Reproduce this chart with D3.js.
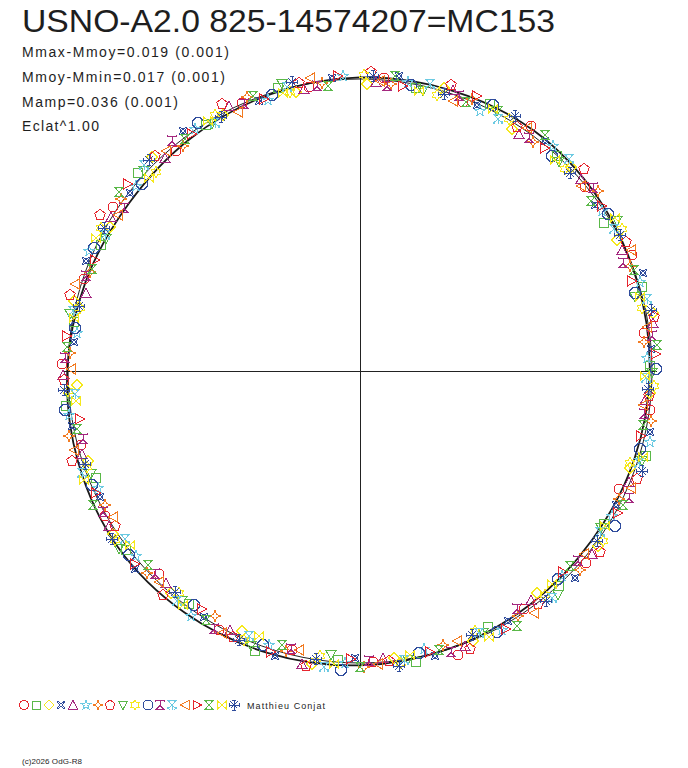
<!DOCTYPE html>
<html lang="en">
<head>
    <meta charset="UTF-8">
    <title>USNO-A2.0 825-14574207=MC153</title>
    <script src="https://d3js.org/d3.v7.min.js" charset="utf-8"></script>
    <style>
        body { margin: 0; background: white; }
        svg { display: block; background: white; }
        text { font-family: 'Liberation Sans', Arial, sans-serif; fill: #1e1e1e; }
        .mark { shape-rendering: crispEdges; }
    </style>
</head>
<body>
    <div id="chart"></div>
    <script>
        // titles and stats shown top-left
        var titleText = 'USNO-A2.0 825-14574207=MC153';
        var statLines = ['Mmax-Mmoy=0.019 (0.001)', 'Mmoy-Mmin=0.017 (0.001)', 'Mamp=0.036 (0.001)', 'Eclat^1.00'];
        var authorText = 'Matthieu Conjat';
        var copyText = '(c)2026 OdG-R8';

        // fitted light curve: phase (0..1, clockwise from top) and magnitude offset
        var fitPhase = [0.00, 0.05, 0.10, 0.15, 0.20, 0.25, 0.30, 0.35, 0.40, 0.45, 0.50, 0.55, 0.60, 0.65, 0.70, 0.75, 0.80, 0.85, 0.90, 0.95];
        var fitMag   = [-0.004, -0.008, -0.012, -0.006, 0.002, 0.006, 0.010, 0.013, 0.008, 0.001, -0.006, -0.012, -0.017, -0.019, -0.011, -0.002, 0.009, 0.017, 0.011, 0.003];

        // one array per night: [phase, magnitude offset]
        var night01 = [[0.013,-0.006],[0.058,0.011],[0.097,-0.018],[0.141,0.004],[0.186,-0.009],[0.229,0.014],[0.271,-0.002],[0.318,0.019],[0.362,-0.011],[0.404,0.007],[0.447,-0.021],[0.493,0.003],[0.538,0.012],[0.579,-0.008],[0.624,0.016],[0.668,-0.004],[0.709,0.009],[0.754,-0.015],[0.801,0.002],[0.843,-0.012],[0.889,0.013],[0.934,-0.003],[0.972,0.008]];
        var night02 = [[0.031,0.009],[0.072,-0.013],[0.118,0.002],[0.163,0.017],[0.204,-0.007],[0.247,0.006],[0.296,-0.016],[0.339,0.010],[0.381,-0.003],[0.426,0.015],[0.470,-0.012],[0.512,0.005],[0.557,-0.019],[0.601,0.008],[0.646,-0.006],[0.689,0.018],[0.731,-0.010],[0.777,0.004],[0.822,0.011],[0.866,-0.014],[0.911,0.006],[0.955,-0.008]];
        var night03 = [[0.004,0.012],[0.046,-0.009],[0.089,0.016],[0.128,-0.004],[0.175,0.008],[0.219,-0.017],[0.262,0.003],[0.305,0.013],[0.351,-0.010],[0.393,0.021],[0.437,-0.002],[0.481,0.009],[0.526,-0.014],[0.568,0.017],[0.612,0.001],[0.657,-0.011],[0.699,0.014],[0.742,0.022],[0.788,-0.006],[0.833,0.010],[0.877,-0.017],[0.922,0.005],[0.964,0.015]];
        var night04 = [[0.021,-0.015],[0.066,0.004],[0.108,-0.008],[0.152,0.012],[0.197,-0.020],[0.238,0.001],[0.283,-0.011],[0.327,0.008],[0.372,-0.017],[0.415,0.003],[0.459,-0.006],[0.503,0.014],[0.546,-0.013],[0.590,0.002],[0.635,-0.019],[0.678,0.007],[0.720,-0.004],[0.766,0.012],[0.811,-0.009],[0.855,0.003],[0.899,-0.016],[0.943,0.009],[0.985,-0.005]];
        var night05 = [[0.009,0.007],[0.051,-0.011],[0.094,0.018],[0.136,-0.002],[0.181,0.010],[0.224,-0.014],[0.266,0.015],[0.312,0.002],[0.356,-0.009],[0.398,0.016],[0.442,-0.005],[0.487,0.011],[0.531,-0.016],[0.574,0.006],[0.618,0.013],[0.662,-0.008],[0.704,0.004],[0.748,-0.013],[0.794,0.019],[0.838,-0.003],[0.882,0.009],[0.927,-0.010],[0.969,0.012]];
        var night06 = [[0.026,-0.003],[0.069,0.015],[0.113,-0.012],[0.157,0.006],[0.201,-0.005],[0.243,0.013],[0.288,-0.018],[0.333,0.004],[0.376,0.011],[0.420,-0.009],[0.464,0.017],[0.508,-0.001],[0.551,0.008],[0.596,-0.015],[0.640,0.003],[0.683,0.012],[0.726,-0.007],[0.771,0.016],[0.816,-0.012],[0.860,0.005],[0.905,-0.002],[0.948,0.014],[0.991,-0.009]];
        var night07 = [[0.017,0.010],[0.062,-0.006],[0.103,0.013],[0.147,-0.016],[0.191,0.005],[0.234,0.017],[0.277,-0.008],[0.323,0.009],[0.367,-0.013],[0.409,0.001],[0.453,0.014],[0.498,-0.010],[0.541,0.006],[0.585,0.019],[0.629,-0.004],[0.673,0.010],[0.715,-0.015],[0.760,0.003],[0.806,0.012],[0.849,-0.007],[0.894,0.016],[0.938,-0.011],[0.979,0.004]];
        var night08 = [[0.006,-0.018],[0.049,-0.022],[0.091,0.004],[0.133,-0.025],[0.178,-0.010],[0.221,-0.019],[0.264,0.006],[0.309,-0.014],[0.353,-0.023],[0.396,-0.003],[0.440,-0.017],[0.484,0.002],[0.529,-0.021],[0.571,-0.008],[0.615,-0.016],[0.660,0.005],[0.702,-0.024],[0.745,-0.011],[0.791,-0.020],[0.836,-0.028],[0.879,-0.013],[0.924,-0.022],[0.967,-0.007]];
        var night09 = [[0.035,0.013],[0.077,-0.004],[0.121,0.009],[0.166,-0.013],[0.208,0.018],[0.251,0.000],[0.299,-0.010],[0.342,0.012],[0.385,-0.018],[0.430,0.007],[0.474,-0.003],[0.516,0.016],[0.560,-0.011],[0.605,0.004],[0.649,-0.020],[0.692,0.011],[0.735,0.002],[0.781,-0.009],[0.826,0.015],[0.869,-0.006],[0.914,0.010],[0.958,-0.014]];
        var night10 = [[0.002,-0.010],[0.043,0.014],[0.085,-0.003],[0.126,0.011],[0.171,-0.016],[0.215,0.008],[0.258,-0.006],[0.302,0.017],[0.347,-0.012],[0.390,0.005],[0.434,0.020],[0.478,-0.008],[0.522,0.010],[0.565,-0.003],[0.609,0.015],[0.654,-0.014],[0.696,0.007],[0.739,-0.001],[0.785,0.013],[0.830,-0.010],[0.873,0.018],[0.918,-0.005],[0.961,0.011]];
        var night11 = [[0.028,0.005],[0.074,-0.014],[0.116,0.010],[0.160,-0.004],[0.206,0.015],[0.249,-0.011],[0.293,0.003],[0.337,-0.017],[0.379,0.012],[0.423,-0.006],[0.467,0.009],[0.510,-0.019],[0.554,0.004],[0.598,0.014],[0.643,-0.009],[0.686,0.002],[0.729,-0.015],[0.774,0.010],[0.819,-0.002],[0.863,0.013],[0.908,-0.011],[0.951,0.006]];
        var night12 = [[0.015,0.016],[0.055,-0.002],[0.100,0.010],[0.144,-0.010],[0.188,0.019],[0.231,-0.005],[0.274,0.012],[0.320,-0.014],[0.364,0.007],[0.407,0.018],[0.450,-0.008],[0.495,0.004],[0.539,0.015],[0.582,-0.011],[0.626,0.009],[0.670,-0.002],[0.712,0.017],[0.757,-0.009],[0.803,0.006],[0.846,0.014],[0.891,-0.012],[0.935,0.003],[0.976,0.010]];
        var night13 = [[0.038,-0.008],[0.080,0.012],[0.124,-0.015],[0.169,0.003],[0.211,-0.009],[0.254,0.016],[0.301,-0.004],[0.344,0.009],[0.388,-0.014],[0.432,0.011],[0.476,-0.001],[0.519,-0.016],[0.563,0.013],[0.607,-0.006],[0.651,0.008],[0.694,-0.012],[0.737,0.015],[0.783,-0.003],[0.828,0.007],[0.871,-0.017],[0.916,0.012],[0.960,-0.004]];
        var night14 = [[0.011,0.003],[0.053,0.016],[0.096,-0.007],[0.139,0.010],[0.183,-0.012],[0.226,0.005],[0.269,0.018],[0.315,-0.009],[0.359,0.006],[0.401,-0.015],[0.445,0.012],[0.490,-0.004],[0.534,0.017],[0.577,-0.010],[0.621,0.001],[0.665,0.014],[0.707,-0.011],[0.751,0.008],[0.797,-0.016],[0.841,0.011],[0.885,-0.002],[0.930,0.015],[0.973,-0.013]];
        var night15 = [[0.024,0.011],[0.064,-0.017],[0.110,0.006],[0.155,-0.003],[0.199,0.014],[0.241,-0.012],[0.286,0.009],[0.330,-0.006],[0.374,0.017],[0.418,-0.013],[0.461,0.005],[0.505,0.011],[0.549,-0.007],[0.593,0.016],[0.637,-0.012],[0.681,0.004],[0.723,0.020],[0.769,-0.008],[0.813,0.012],[0.858,-0.015],[0.902,0.003],[0.946,0.010],[0.988,-0.011]];
        var night16 = [[0.019,-0.012],[0.060,0.008],[0.106,-0.020],[0.149,0.014],[0.194,-0.001],[0.236,-0.015],[0.280,0.011],[0.325,-0.007],[0.369,0.013],[0.412,-0.019],[0.456,0.006],[0.500,-0.010],[0.544,0.018],[0.588,-0.002],[0.632,0.012],[0.676,-0.017],[0.718,0.009],[0.763,-0.006],[0.808,0.014],[0.852,-0.021],[0.897,0.004],[0.941,-0.009],[0.982,0.013]];
        var night17 = [[0.033,0.015],[0.075,-0.005],[0.119,0.012],[0.164,-0.014],[0.209,0.007],[0.253,0.019],[0.297,-0.009],[0.340,0.005],[0.383,0.014],[0.428,-0.011],[0.472,0.010],[0.514,-0.006],[0.558,0.021],[0.603,-0.004],[0.647,0.009],[0.690,-0.013],[0.733,0.016],[0.779,0.003],[0.824,-0.010],[0.868,0.017],[0.913,-0.003],[0.957,0.008]];
        var night18 = [[0.007,-0.009],[0.047,0.006],[0.087,-0.016],[0.130,0.009],[0.173,-0.003],[0.217,-0.013],[0.260,0.010],[0.304,-0.018],[0.349,0.002],[0.392,-0.010],[0.436,0.013],[0.479,-0.015],[0.524,0.001],[0.567,-0.008],[0.611,0.010],[0.655,-0.019],[0.698,0.005],[0.740,-0.011],[0.786,0.009],[0.831,-0.004],[0.875,-0.017],[0.920,0.007],[0.963,-0.012]];

        var nights = [night01, night02, night03, night04, night05, night06, night07, night08, night09,
                      night10, night11, night12, night13, night14, night15, night16, night17, night18];

        var palette = ['#e6262e', '#5ab848', '#f5e81c', '#2f4c9c', '#a4287f', '#6ccae2', '#f27b22'];

        // marker outlines, about 10px across
        var markerPaths = [
            'M4.5,0A4.5,4.5 0 1,1 -4.5,0A4.5,4.5 0 1,1 4.5,0Z',
            'M-4,-4L4,-4L4,4L-4,4Z',
            'M0,-5L5,0L0,5L-5,0Z',
            'M-4,-4L0,-1.6L4,-4L1.6,0L4,4L0,1.6L-4,4L-1.6,0Z',
            'M0,-4.5L4.5,4L-4.5,4Z',
            'M0,-5L1.2,-1.6L4.8,-1.5L1.9,0.6L2.9,4L0,2L-2.9,4L-1.9,0.6L-4.8,-1.5L-1.2,-1.6Z',
            'M0,-5L1.3,-1.3L5,0L1.3,1.3L0,5L-1.3,1.3L-5,0L-1.3,-1.3Z',
            'M0,-5L4.8,-1.5L2.9,4L-2.9,4L-4.8,-1.5Z',
            'M0,4.5L4.5,-4L-4.5,-4Z',
            'M0,-5L1.5,-2.5L4.3,-2.5L3,0L4.3,2.5L1.5,2.5L0,5L-1.5,2.5L-4.3,2.5L-3,0L-4.3,-2.5L-1.5,-2.5Z',
            'M-2,-4.8L2,-4.8L4.8,-2L4.8,2L2,4.8L-2,4.8L-4.8,2L-4.8,-2Z',
            'M-4.5,-4.5L4.5,-4.5M-4.5,-5.5L-4.5,-3.5M4.5,-5.5L4.5,-3.5M0,-4.5L0,0.5M0,0.5L4,4.5L-4,4.5Z',
            'M-4,-4.5L4,-4.5L0,0Z M0,0L-4.5,4 M0,0L4.5,4 M-4.5,2.5L-2.5,4.8 M4.5,2.5L2.5,4.8 M0,0L0,4.5',
            'M-4.5,0L4,-4.5L4,4.5Z',
            'M4.5,0L-4,-4.5L-4,4.5Z',
            'M-4,-4.5L4,-4.5L-4,4.5L4,4.5Z',
            'M-4.5,-4L-4.5,4L4.5,-4L4.5,4Z',
            'M-5,0L5,0M0,-5L0,5M-3.5,-3.5L3.5,3.5M-3.5,3.5L3.5,-3.5M-2,-5L2,-5M-2,5L2,5M-5,-2L-5,2M5,-2L5,2'
        ];

        var svgwidth = 688;
        var svgheight = 768;
        var cx = 360, cy = 371, R = 292;
        var markScale = 1.1;

        var svg = d3.select('#chart')
                    .append('svg')
                    .attr('width', svgwidth)
                    .attr('height', svgheight);

        // phase -> angle, brightness ratio -> radius (radial contrast stretched a bit)
        var angle = d3.scaleLinear().domain([0, 1]).range([0, 2 * Math.PI]);
        var radius = d3.scaleLinear().domain([0.3, 1]).range([0, R]);
        function magToR(m) { return radius(Math.pow(10, -0.4 * m)); }

        var g = svg.append('g').attr('transform', 'translate(' + cx + ',' + cy + ')');

        // axes through the centre
        g.append('line').attr('x1', -297).attr('x2', 297).attr('y1', 0.5).attr('y2', 0.5)
            .attr('stroke', '#222').attr('stroke-width', 1);
        g.append('line').attr('x1', 0.5).attr('x2', 0.5).attr('y1', -297).attr('y2', 297)
            .attr('stroke', '#222').attr('stroke-width', 1);

        // reference circle (mean brightness)
        g.append('circle').attr('r', radius(1))
            .attr('fill', 'none').attr('stroke', '#222').attr('stroke-width', 1);

        // fitted curve
        var fitData = fitPhase.map(function(p, i) { return [p, fitMag[i]]; });
        var fitLine = d3.lineRadial()
                        .angle(function(d) { return angle(d[0]); })
                        .radius(function(d) { return magToR(d[1]); })
                        .curve(d3.curveCardinalClosed);
        g.append('path').attr('d', fitLine(fitData))
            .attr('fill', 'none').attr('stroke', '#1a1a1a').attr('stroke-width', 1.8);

        // observations, one symbol per night
        nights.forEach(function(night, i) {
            g.selectAll('.n' + i)
                .data(night)
                .enter().append('path')
                .attr('class', 'mark n' + i)
                .attr('d', markerPaths[i])
                .attr('transform', function(d) {
                    var p = d3.pointRadial(angle(d[0]), magToR(d[1]));
                    return 'translate(' + Math.round(p[0]) + ',' + Math.round(p[1]) + ') scale(' + markScale + ')';
                })
                .attr('fill', 'none')
                .attr('stroke', palette[i % palette.length])
                .attr('stroke-width', 1 / markScale);
        });

        // title and statistics
        svg.append('text').attr('x', 22).attr('y', 32)
            .attr('textLength', 533).attr('lengthAdjust', 'spacingAndGlyphs')
            .style('font-size', '31px').text(titleText);

        var statEnds = [229, 225, 178, 99];
        var statBase = [57, 82, 107, 131];
        statLines.forEach(function(s, i) {
            svg.append('text').attr('x', 22).attr('y', statBase[i])
                .attr('textLength', statEnds[i] - 22).attr('lengthAdjust', 'spacing')
                .style('font-size', '14px').text(s);
        });

        // legend of night symbols
        var legendX = d3.scaleLinear().domain([0, 17]).range([24, 234]);
        svg.append('g').selectAll('path')
            .data(nights)
            .enter().append('path')
            .attr('class', 'mark')
            .attr('d', function(d, i) { return markerPaths[i]; })
            .attr('transform', function(d, i) { return 'translate(' + Math.round(legendX(i)) + ',705)'; })
            .attr('fill', 'none')
            .attr('stroke', function(d, i) { return palette[i % palette.length]; })
            .attr('stroke-width', 1);

        svg.append('text').attr('x', 247).attr('y', 709)
            .attr('textLength', 78).attr('lengthAdjust', 'spacing')
            .style('font-size', '9px').text(authorText);

        svg.append('text').attr('x', 22).attr('y', 764)
            .attr('textLength', 60).attr('lengthAdjust', 'spacing')
            .style('font-size', '8px').text(copyText);
    </script>
</body>
</html>
